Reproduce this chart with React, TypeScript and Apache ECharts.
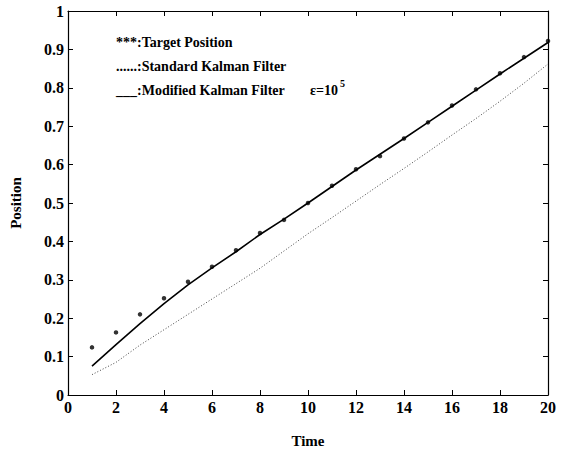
import React, { useEffect, useRef } from "react";
import * as echarts from "echarts";

const times = [1, 2, 3, 4, 5, 6, 7, 8, 9, 10, 11, 12, 13, 14, 15, 16, 17, 18, 19, 20];
const target = [0.124, 0.163, 0.21, 0.252, 0.295, 0.334, 0.377, 0.422, 0.456, 0.5, 0.545, 0.588, 0.622, 0.668, 0.71, 0.754, 0.796, 0.838, 0.88, 0.922];
const modified = [0.075, 0.131, 0.186, 0.238, 0.287, 0.331, 0.373, 0.418, 0.458, 0.5, 0.543, 0.586, 0.627, 0.668, 0.71, 0.752, 0.794, 0.836, 0.877, 0.918];
const standard = [0.053, 0.085, 0.13, 0.17, 0.21, 0.25, 0.29, 0.33, 0.375, 0.42, 0.462, 0.505, 0.548, 0.59, 0.633, 0.677, 0.72, 0.765, 0.812, 0.862];
const legendLines = ["***:Target Position", "......:Standard Kalman Filter", "___:Modified Kalman Filter"];

const FONT = "Times New Roman";

export default function App() {
  const ref = useRef<HTMLDivElement>(null);
  useEffect(() => {
    if (!ref.current) return;
    const chart = echarts.init(ref.current, null, { renderer: "svg" });
    const pair = (ys: number[]) => times.map((t, i) => [t, ys[i]]);
    const axisText = { color: "#000", fontFamily: FONT, fontWeight: "bold" as const, fontSize: 16 };
    const legendStyle = { fill: "#000", fontFamily: FONT, fontWeight: "bold" as const, fontSize: 14, verticalAlign: "middle" as const };
    const line = { show: true, onZero: false, lineStyle: { color: "#000", width: 1.2 } };
    const tick = { show: true, inside: true, length: 5, lineStyle: { color: "#000" } };
    chart.setOption({
      animation: false,
      backgroundColor: "#fff",
      grid: { left: 68, right: 26, top: 11, bottom: 54 },
      xAxis: [
        {
          type: "value", min: 0, max: 20, interval: 2, position: "bottom",
          name: "Time", nameLocation: "middle", nameGap: 38,
          nameTextStyle: { ...axisText, fontSize: 15 },
          axisLine: line, axisTick: tick,
          axisLabel: { ...axisText, margin: 4 },
          splitLine: { show: false },
        },
        {
          type: "value", min: 0, max: 20, interval: 2, position: "top",
          axisLine: line, axisTick: tick,
          axisLabel: { show: false },
          splitLine: { show: false },
        },
      ],
      yAxis: [
        {
          type: "value", min: 0, max: 1, interval: 0.1, position: "left",
          name: "Position", nameLocation: "middle", nameGap: 45,
          nameTextStyle: { ...axisText, fontSize: 15 },
          axisLine: line, axisTick: tick,
          axisLabel: { ...axisText, margin: 4, formatter: (v: number) => String(Math.round(v * 10) / 10) },
          splitLine: { show: false },
        },
        {
          type: "value", min: 0, max: 1, interval: 0.1, position: "right",
          axisLine: line, axisTick: tick,
          axisLabel: { show: false },
          splitLine: { show: false },
        },
      ],
      series: [
        {
          name: "Standard Kalman Filter", type: "line", data: pair(standard),
          showSymbol: false, symbol: "none",
          lineStyle: { color: "#444", width: 1, type: [1, 2] },
        },
        {
          name: "Modified Kalman Filter", type: "line", data: pair(modified),
          showSymbol: false, symbol: "none",
          lineStyle: { color: "#000", width: 1.6 },
        },
        {
          name: "Target Position", type: "scatter", data: pair(target),
          symbol: "circle", symbolSize: 4.5,
          itemStyle: { color: "#000" },
        },
      ],
      graphic: [
        { type: "text", x: 116, y: 42, style: { text: legendLines[0], ...legendStyle } },
        { type: "text", x: 116, y: 66, style: { text: legendLines[1], ...legendStyle } },
        { type: "text", x: 116, y: 90, style: { text: legendLines[2], ...legendStyle } },
        { type: "text", x: 310, y: 90, style: { text: "ε=10", ...legendStyle } },
        { type: "text", x: 340, y: 83, style: { text: "5", fill: "#000", fontFamily: FONT, fontWeight: "bold", fontSize: 10, verticalAlign: "middle" } },
      ],
    });
    return () => chart.dispose();
  }, []);
  return <div ref={ref} style={{ width: 574, height: 453, position: "absolute", left: 0, top: 0 }} />;
}
